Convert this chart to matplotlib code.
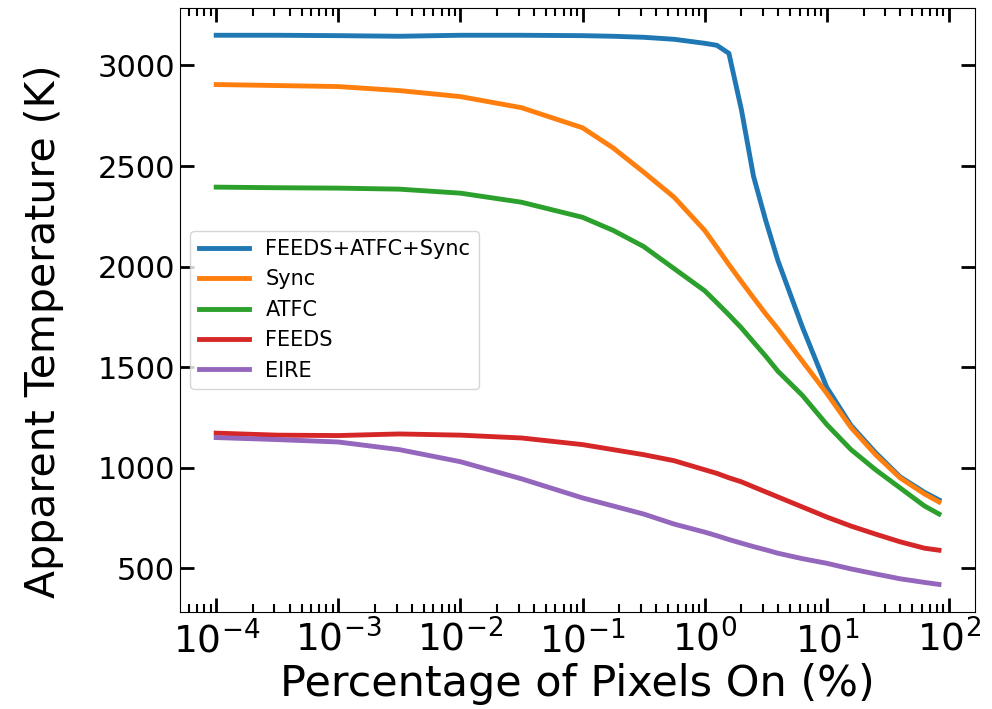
import numpy as np
import matplotlib
matplotlib.use('Agg')
from matplotlib import pyplot as plt

# percentage of pixels on (x)
pct = [1e-4, 3.16e-4, 1e-3, 3.16e-3, 1e-2, 3.16e-2, 0.1, 0.178, 0.316, 0.562, 1.0,
       1.26, 1.58, 2.0, 2.51, 3.16, 3.98, 6.31, 10.0, 15.8, 25.1, 39.8, 63.1, 83.0]

# apparent temperature (K) for each method
feeds_atfc_sync = [3150, 3150, 3148, 3145, 3150, 3150, 3148, 3145, 3140, 3130, 3110,
                   3100, 3060, 2780, 2450, 2230, 2030, 1700, 1400, 1210, 1075, 955, 878, 840]
sync = [2905, 2900, 2895, 2875, 2845, 2790, 2690, 2590, 2470, 2345, 2180,
        2095, 2010, 1925, 1845, 1765, 1690, 1530, 1370, 1200, 1065, 950, 870, 830]
atfc = [2395, 2392, 2390, 2385, 2365, 2320, 2245, 2180, 2100, 1990, 1880,
        1820, 1760, 1695, 1625, 1555, 1480, 1360, 1215, 1090, 990, 900, 810, 770]
feeds = [1172, 1162, 1160, 1168, 1162, 1148, 1115, 1090, 1065, 1035, 990,
         972, 950, 930, 905, 880, 855, 805, 755, 710, 670, 632, 600, 590]
eire = [1150, 1140, 1128, 1090, 1030, 945, 850, 810, 770, 720, 680,
        662, 643, 625, 608, 592, 575, 548, 525, 497, 472, 448, 430, 420]

labels = ['FEEDS+ATFC+Sync', 'Sync', 'ATFC', 'FEEDS', 'EIRE']
series = [feeds_atfc_sync, sync, atfc, feeds, eire]
xticks = [1e-4, 1e-3, 1e-2, 1e-1, 1e0, 1e1, 1e2]
yticks = [500, 1000, 1500, 2000, 2500, 3000]

fig = plt.figure(figsize=(9.92, 7.09), dpi=100)
ax = fig.add_axes([0.1815, 0.137, 0.8015, 0.852])

for lab, vals in zip(labels, series):
    ax.plot(pct, vals, lw=3.5, label=lab)

ax.set_xscale('log')
ax.set_xticks(xticks)
ax.set_yticks(yticks)
ax.tick_params(which='both', direction='in', top=True, right=True)
ax.tick_params(which='major', length=10, width=2)
ax.tick_params(which='minor', length=6, width=1.5)
ax.tick_params(axis='x', which='major', labelsize=27, pad=6)
ax.tick_params(axis='y', which='major', labelsize=22)
ax.set_xlabel('Percentage of Pixels On (%)', fontsize=31)
ax.set_ylabel('Apparent Temperature (K)', fontsize=29.5)
ax.xaxis.set_label_coords(0.5, -0.085)
ax.yaxis.set_label_coords(-0.146, 0.465)
ax.legend(loc='center left', bbox_to_anchor=(0.0, 0.5), fontsize=15, handlelength=2.4)

fig.savefig('out.png', dpi=100)
